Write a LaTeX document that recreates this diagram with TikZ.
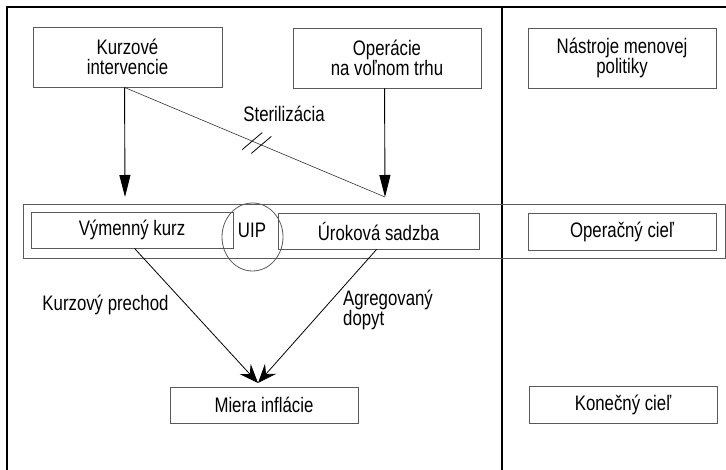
\documentclass[tikz,border=0pt]{standalone}
\usepackage{fontspec}
\setmainfont[FakeStretch=0.8]{Liberation Sans}
\usetikzlibrary{arrows.meta,shapes.geometric,calc}
\begin{document}
\begin{tikzpicture}[x=1pt,y=-1pt,
 fs/.style={font=\fontsize{21}{20}\selectfont},
 box/.style={draw=black!65,line width=0.9pt,inner sep=0pt,align=center,fs},
 frame/.style={line width=1.4pt,draw=black},
 arrA/.style={line width=0.9pt,-{Triangle[length=22pt,width=11pt]}},
 arrB/.style={line width=0.8pt,-{Stealth[length=19pt,width=15pt,inset=7pt]}},
 thinln/.style={line width=0.6pt,draw=black!80},
 lbl/.style={fs,inner sep=0pt}]
\useasboundingbox (0,0) rectangle (726,470);
\fill[white] (0,0) rectangle (726,470);
% frame
\draw[frame] (726,7) -- (7,7) -- (7,470);
\draw[frame] (502,7) -- (502,470);
% band
\node[draw=black!65,line width=0.9pt,minimum width=702pt,minimum height=54pt,inner sep=0pt] (band) at (374,231) {};
% boxes
\node[box,minimum width=189pt,minimum height=60pt] (kz) at (127.5,57) {Kurzové\\intervencie};
\node[box,minimum width=188pt,minimum height=60pt] (op) at (387,58) {Operácie\\na voľnom trhu};
\node[box,minimum width=188pt,minimum height=60pt] (ns) at (622,58) {Nástroje menovej\\politiky};
\node[box,minimum width=202pt,minimum height=36pt] (vk) at (132,230) {Výmenný kurz};
\node[box,minimum width=201pt,minimum height=36pt] (us) at (378.5,231) {Úroková sadzba};
\node[box,minimum width=188pt,minimum height=37pt] (oc) at (622,231.5) {Operačný cieľ};
\node[box,minimum width=188pt,minimum height=36pt] (mi) at (264,405) {Miera inflácie};
\node[box,minimum width=188pt,minimum height=37pt] (kc) at (623,404.5) {Konečný cieľ};
% UIP
\node[draw=black!65,line width=0.8pt,ellipse,minimum width=61pt,minimum height=68pt,inner sep=0pt] (uip) at (252.5,237) {};
\node[lbl] (uiptxt) at (252,230.5) {UIP};
% connector end points
\coordinate (t1) at (125,197);
\coordinate (t2) at (385,197);
\coordinate (t3) at (258,383);
% arrows
\draw[arrA] ($(kz.south west)+(92,0)$) -- (t1);
\draw[arrA] ($(op.south west)+(92,0)$) -- (t2);
\draw[thinln] ($(kz.south west)+(92,0)$) -- (t2)
  coordinate[pos=0.49] (s1) coordinate[pos=0.525] (s2);
\draw[line width=0.8pt] ($(s1)+(-10,8.5)$) -- ($(s1)+(10,-8.5)$);
\draw[line width=0.8pt] ($(s2)+(-10,8.5)$) -- ($(s2)+(10,-8.5)$);
\draw[arrB] ($(vk.south west)+(104,0)$) -- (t3);
\draw[arrB] ($(us.south west)+(99,0)$) -- (t3);
% labels
\node[lbl] (ster) at (284,114) {Sterilizácia};
\node[lbl] (kp) at (105.5,305) {Kurzový prechod};
\node[lbl,anchor=west,align=left] (ad) at (343,310) {Agregovaný\\dopyt};
\end{tikzpicture}
\end{document}
